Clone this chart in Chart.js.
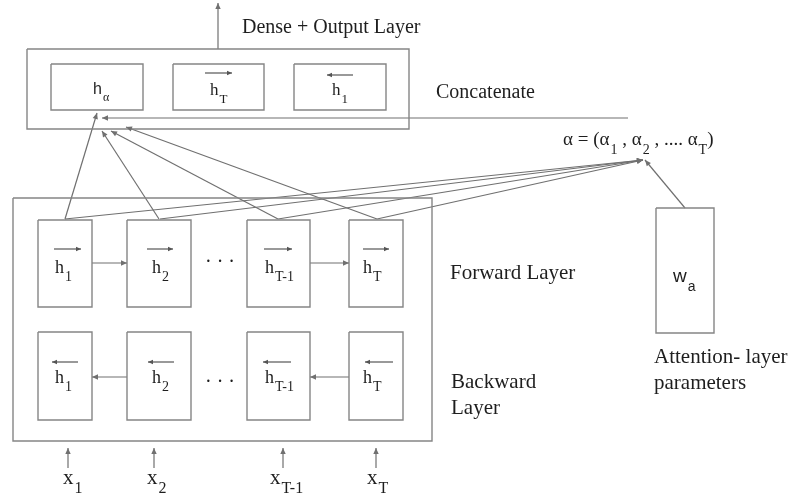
<!DOCTYPE html>
<html>
<head>
<meta charset="utf-8">
<script src="https://cdn.jsdelivr.net/npm/chart.js@4.4.1/dist/chart.umd.min.js"></script>
<style>
  html, body { margin: 0; background: #fff; }
  #wrap { width: 800px; height: 500px; }
</style>
</head>
<body>
<div id="wrap"><canvas id="diagram"></canvas></div>
<script>
// boxes: [x0, y0, x1, y1] in diagram units (x 0..800, y 0..500 top-down)
var boxes = [
  [27, 49, 409, 129],                       // concatenate
  [51, 64, 143, 110], [173, 64, 264, 110], [294, 64, 386, 110],
  [13, 198, 432, 441],                      // bi-rnn
  [38, 220, 92, 307], [127, 220, 191, 307], [247, 220, 310, 307], [349, 220, 403, 307],
  [38, 332, 92, 420], [127, 332, 191, 420], [247, 332, 310, 420], [349, 332, 403, 420],
  [656, 208, 714, 333]                      // w_a
];

// arrows: [fromX, fromY, toX, toY]
var arrows = [
  [218, 49, 218, 3],
  [628, 118, 102, 118],
  [65, 219, 97, 113], [159, 219, 102, 131], [278, 219, 111, 131], [377, 219, 126, 127],
  [65, 219, 643, 160], [160, 219, 643, 160], [278, 219, 643, 160], [377, 219, 643, 160],
  [685, 208, 645, 160],
  [92, 263, 127, 263], [310, 263, 349, 263],
  [127, 377, 92, 377], [349, 377, 310, 377],
  [68, 468, 68, 448], [154, 468, 154, 448], [283, 468, 283, 448], [376, 468, 376, 448]
];

// little arrows over the h's
var overArrows = [
  [205, 73, 232, 73], [353, 75, 327, 75],
  [54, 249, 81, 249], [147, 249, 173, 249], [264, 249, 292, 249], [363, 249, 389, 249],
  [78, 362, 52, 362], [174, 362, 148, 362], [291, 362, 263, 362], [393, 362, 365, 362]
];

// text pieces: [text, subscript]
var hForward = ["1", "2", "T-1", "T"];
var hX = [55, 152, 265, 363];
var xIn = ["1", "2", "T-1", "T"];
var xInX = [63, 147, 270, 367];
var alphaParts = [["α = (α", 0], ["1", 1], [" , α", 0], ["2", 1], [" , .... α", 0], ["T", 1], [")", 0]];

var serif = '"Liberation Serif", "Times New Roman", serif';
var sans = '"Liberation Sans", Arial, sans-serif';
var lineColor = "#707070";
var textColor = "#1e1e1e";

var labels = [
  { x: 242, y: 33, size: 20, font: serif, parts: [["Dense + Output Layer", 0]] },
  { x: 436, y: 98, size: 20, font: serif, parts: [["Concatenate", 0]] },
  { x: 93, y: 94, size: 16, font: sans, subFont: serif, parts: [["h", 0], ["α", 1]] },
  { x: 210, y: 95, size: 17, font: serif, parts: [["h", 0], ["T", 1]] },
  { x: 332, y: 95, size: 17, font: serif, parts: [["h", 0], ["1", 1]] },
  { x: 563, y: 145, size: 19, font: serif, parts: alphaParts },
  { x: 450, y: 279, size: 21, font: serif, parts: [["Forward Layer", 0]] },
  { x: 451, y: 388, size: 21, font: serif, parts: [["Backward", 0]] },
  { x: 451, y: 414, size: 21, font: serif, parts: [["Layer", 0]] },
  { x: 673, y: 282, size: 19, font: sans, parts: [["w", 0], ["a", 1]] },
  { x: 654, y: 363, size: 21, font: serif, parts: [["Attention- layer", 0]] },
  { x: 654, y: 389, size: 21, font: serif, parts: [["parameters", 0]] },
  { x: 205, y: 268, size: 20, font: serif, parts: [["· · ·", 0]] },
  { x: 205, y: 388, size: 20, font: serif, parts: [["· · ·", 0]] }
];
hForward.forEach(function (s, i) {
  labels.push({ x: hX[i], y: 273, size: 18, font: serif, parts: [["h", 0], [s, 1]] });
  labels.push({ x: hX[i], y: 383, size: 18, font: serif, parts: [["h", 0], [s, 1]] });
});
xIn.forEach(function (s, i) {
  labels.push({ x: xInX[i], y: 484, size: 21, font: serif, parts: [["x", 0], [s, 1]] });
});

var datasets = [];
boxes.forEach(function (b) {
  datasets.push({
    data: [{x: b[0], y: b[1]}, {x: b[2], y: b[1]}, {x: b[2], y: b[3]}, {x: b[0], y: b[3]}, {x: b[0], y: b[1]}],
    borderColor: "#858585", borderWidth: 1.4
  });
});
arrows.forEach(function (a) {
  datasets.push({ data: [{x: a[0], y: a[1]}, {x: a[2], y: a[3]}], borderColor: lineColor, borderWidth: 1.2, head: 6 });
});
overArrows.forEach(function (a) {
  datasets.push({ data: [{x: a[0], y: a[1]}, {x: a[2], y: a[3]}], borderColor: "#555", borderWidth: 1.2, head: 5 });
});
datasets.forEach(function (d) {
  d.pointRadius = 0; d.fill = false; d.tension = 0; d.showLine = true; d.clip = false;
});

var headsAndText = {
  id: "headsAndText",
  afterDatasetsDraw: function (chart) {
    var ctx = chart.ctx;
    var sx = chart.scales.x, sy = chart.scales.y;
    chart.data.datasets.forEach(function (d, i) {
      if (!d.head) return;
      var pts = chart.getDatasetMeta(i).data;
      var p0 = pts[0], p1 = pts[1];
      var ang = Math.atan2(p1.y - p0.y, p1.x - p0.x);
      var L = d.head, W = d.head * 0.45;
      ctx.save();
      ctx.fillStyle = d.borderColor;
      ctx.beginPath();
      ctx.moveTo(p1.x, p1.y);
      ctx.lineTo(p1.x - L * Math.cos(ang) + W * Math.sin(ang), p1.y - L * Math.sin(ang) - W * Math.cos(ang));
      ctx.lineTo(p1.x - L * Math.cos(ang) - W * Math.sin(ang), p1.y - L * Math.sin(ang) + W * Math.cos(ang));
      ctx.closePath();
      ctx.fill();
      ctx.restore();
    });

    ctx.save();
    ctx.fillStyle = textColor;
    ctx.textBaseline = "alphabetic";
    ctx.textAlign = "left";
    labels.forEach(function (lb) {
      var x = sx.getPixelForValue(lb.x);
      var y = sy.getPixelForValue(lb.y);
      lb.parts.forEach(function (p) {
        if (p[1]) {
          var s = Math.round(lb.size * 0.75);
          ctx.font = s + "px " + (lb.subFont || lb.font);
          ctx.fillText(p[0], x + 1, y + lb.size * 0.45);
          x += ctx.measureText(p[0]).width + 1;
        } else {
          ctx.font = lb.size + "px " + lb.font;
          ctx.fillText(p[0], x, y);
          x += ctx.measureText(p[0]).width;
        }
      });
    });
    ctx.restore();
  }
};

new Chart("diagram", {
  type: "line",
  data: { datasets: datasets },
  options: {
    responsive: true,
    maintainAspectRatio: false,
    animation: false,
    layout: { padding: 0 },
    plugins: { legend: { display: false }, tooltip: { enabled: false } },
    scales: {
      x: { type: "linear", min: 0, max: 800, display: false },
      y: { type: "linear", min: 0, max: 500, reverse: true, display: false }
    }
  },
  plugins: [headsAndText]
});
</script>
</body>
</html>
